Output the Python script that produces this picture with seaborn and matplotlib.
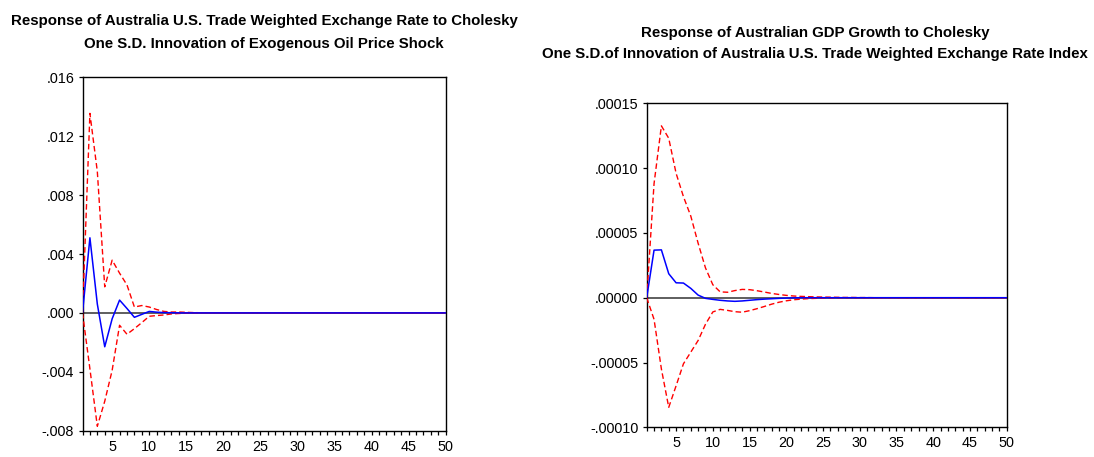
import numpy as np
import pandas as pd
import matplotlib
matplotlib.use("Agg")
import matplotlib.pyplot as plt
from matplotlib import font_manager
from matplotlib.ticker import FixedLocator, MultipleLocator
import seaborn as sns

# ---------------- data ----------------
periods = list(range(1, 51))

def pad(vals, n=50):
    return list(vals) + [0.0] * (n - len(vals))

# Left panel: exchange rate response to oil price shock
left_resp = pad([0.0, 0.0051, 0.0006, -0.0023, -0.0004, 0.00087, 0.0003, -0.0003,
                 -0.0001, 0.0001, 0.00005, 0.00002, 0.00001])
left_upper = pad([0.0, 0.01355, 0.0096, 0.00177, 0.00358, 0.0027, 0.0019, 0.0004,
                  0.0005, 0.0004, 0.00023, 0.0001, 0.00006, 0.00006, 0.00004,
                  0.00002, 0.00001])
left_lower = pad([0.0, -0.0038, -0.0077, -0.0060, -0.0039, -0.00084, -0.00145,
                  -0.00107, -0.00066, -0.00023, -0.00018, -0.00014, -0.00007,
                  -0.00004, -0.00002, -0.00001])

# Right panel: GDP growth response to exchange rate shock
right_resp = pad([0.0, 3.67e-5, 3.69e-5, 1.85e-5, 1.15e-5, 1.13e-5, 0.72e-5, 0.2e-5,
                  -0.05e-5, -0.13e-5, -0.2e-5, -0.25e-5, -0.28e-5, -0.25e-5,
                  -0.2e-5, -0.15e-5, -0.11e-5, -0.08e-5, -0.05e-5, -0.03e-5,
                  -0.01e-5])
right_upper = pad([0.0, 8.8e-5, 13.26e-5, 12.3e-5, 9.6e-5, 7.8e-5, 6.3e-5, 4.2e-5,
                   2.3e-5, 1.0e-5, 0.45e-5, 0.42e-5, 0.55e-5, 0.64e-5, 0.62e-5,
                   0.54e-5, 0.44e-5, 0.33e-5, 0.25e-5, 0.18e-5, 0.13e-5, 0.1e-5,
                   0.08e-5, 0.06e-5, 0.05e-5, 0.04e-5, 0.03e-5, 0.02e-5, 0.02e-5,
                   0.01e-5, 0.01e-5])
right_lower = pad([0.0, -1.67e-5, -5.5e-5, -8.46e-5, -6.8e-5, -5.1e-5, -4.2e-5,
                   -3.3e-5, -2.05e-5, -1.1e-5, -0.9e-5, -0.98e-5, -1.08e-5,
                   -1.12e-5, -1.0e-5, -0.85e-5, -0.68e-5, -0.5e-5, -0.35e-5,
                   -0.24e-5, -0.16e-5, -0.11e-5, -0.07e-5, -0.05e-5, -0.03e-5,
                   -0.02e-5, -0.01e-5])

left_yticks = [-0.008, -0.004, 0.0, 0.004, 0.008, 0.012, 0.016]
left_ylabels = ["-.008", "-.004", ".000", ".004", ".008", ".012", ".016"]
right_yticks = [-0.0001, -0.00005, 0.0, 0.00005, 0.0001, 0.00015]
right_ylabels = ["-.00010", "-.00005", ".00000", ".00005", ".00010", ".00015"]
xticks = [5, 10, 15, 20, 25, 30, 35, 40, 45, 50]
xlabels = [str(v) for v in xticks]

left_title = ["Response of Australia U.S. Trade Weighted Exchange Rate to Cholesky",
              "One S.D. Innovation of Exogenous Oil Price Shock"]
right_title = ["Response of Australian GDP Growth to Cholesky",
               "One S.D.of Innovation of Australia U.S. Trade Weighted Exchange Rate Index"]

# ---------------- style ----------------
sns.set_theme(style="white")
names = {f.name for f in font_manager.fontManager.ttflist}
narrow = "Liberation Sans Narrow" in names
fam = ["Liberation Sans Narrow", "Liberation Sans", "DejaVu Sans"] if narrow else ["Liberation Sans", "DejaVu Sans"]
plt.rcParams["font.family"] = fam
title_size = 11.6 if narrow else 10.85
tick_size = 11.0 if narrow else 10.4

fig = plt.figure(figsize=(10.94, 4.57), dpi=100)
ax1 = fig.add_axes([82.5 / 1094, (457 - 430.7) / 457, (445.7 - 82.5) / 1094, (430.7 - 77.3) / 457])
ax2 = fig.add_axes([646.7 / 1094, (457 - 427.3) / 457, (1006.7 - 646.7) / 1094, (427.3 - 103.3) / 457])

def draw(ax, resp, upper, lower, ylim, yticks, ylabels):
    df = pd.DataFrame({"period": periods, "resp": resp, "upper": upper, "lower": lower})
    ax.axhline(0, color="#333333", lw=1.1, zorder=1)
    sns.lineplot(data=df, x="period", y="upper", ax=ax, color="#FF0000", lw=1.0,
                 linestyle=(0, (4, 2.2)), zorder=3)
    sns.lineplot(data=df, x="period", y="lower", ax=ax, color="#FF0000", lw=1.0,
                 linestyle=(0, (4, 2.2)), zorder=3)
    sns.lineplot(data=df, x="period", y="resp", ax=ax, color="#0000FF", lw=1.1, zorder=4)
    ax.set_xlim(1, 50)
    ax.set_ylim(*ylim)
    ax.set_xlabel("")
    ax.set_ylabel("")
    ax.xaxis.set_major_locator(FixedLocator(xticks))
    ax.set_xticklabels(xlabels)
    ax.xaxis.set_minor_locator(MultipleLocator(1))
    ax.yaxis.set_major_locator(FixedLocator(yticks))
    ax.set_yticklabels(ylabels)
    ax.tick_params(axis="both", which="both", direction="out", length=3, width=0.9,
                   color="black", labelsize=tick_size, labelcolor="black",
                   bottom=True, left=True, top=False, right=False)
    ax.tick_params(axis="y", pad=3)
    ax.tick_params(axis="x", pad=3.5)
    ax.tick_params(axis="y", which="minor", left=False)
    for s in ax.spines.values():
        s.set_visible(True)
        s.set_color("black")
        s.set_linewidth(1.0)
    ax.grid(False)

draw(ax1, left_resp, left_upper, left_lower, (-0.008, 0.016), left_yticks, left_ylabels)
draw(ax2, right_resp, right_upper, right_lower, (-0.0001, 0.00015), right_yticks, right_ylabels)

fig.text(264 / 1094, 1 - 25 / 457, left_title[0], ha="center", va="baseline",
         fontsize=title_size, fontweight="bold", color="black")
fig.text(264 / 1094, 1 - 47.7 / 457, left_title[1], ha="center", va="baseline",
         fontsize=title_size, fontweight="bold", color="black")
fig.text(815 / 1094, 1 - 36.7 / 457, right_title[0], ha="center", va="baseline",
         fontsize=title_size, fontweight="bold", color="black")
fig.text(815 / 1094, 1 - 57.7 / 457, right_title[1], ha="center", va="baseline",
         fontsize=title_size, fontweight="bold", color="black")

fig.savefig("out.png", dpi=100)
